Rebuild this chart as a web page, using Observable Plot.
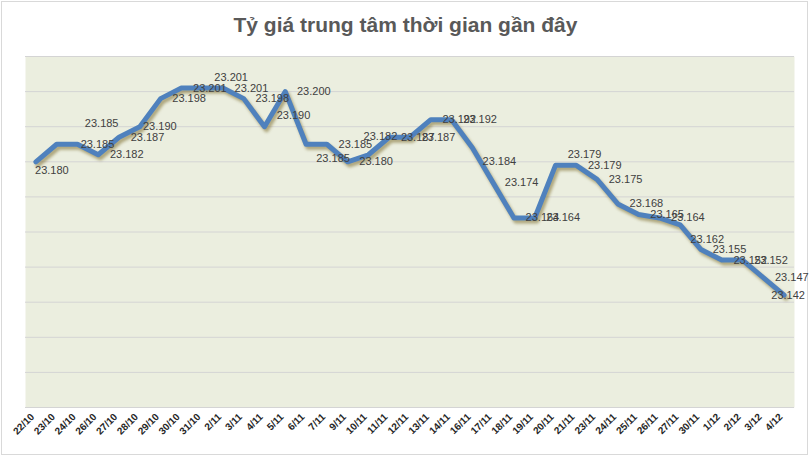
<!DOCTYPE html>
<html>
<head>
<meta charset="utf-8">
<script src="https://cdn.jsdelivr.net/npm/d3@7"></script>
<script src="https://cdn.jsdelivr.net/npm/@observablehq/plot@0.6"></script>
<style>
  html, body { margin: 0; padding: 0; background: #fff; }
  #wrap { position: relative; width: 811px; height: 458px; overflow: hidden; background: #fff; }
  #frame { position: absolute; left: 1px; top: 1px; width: 805px; height: 452px; border: 1px solid #d9d9d9; }
  #title { position: absolute; left: 0; top: 13px; width: 811px; text-align: center;
           font-family: "Liberation Sans Narrow", "Liberation Sans", Arial, sans-serif;
           font-weight: bold; font-size: 21px; color: #595959; }
  #chart { position: absolute; left: 0; top: 50px; }
</style>
</head>
<body>
<div id="wrap">
  <div id="frame"></div>
  <div id="title">Tỷ giá trung tâm thời gian gần đây</div>
  <div id="chart"></div>
</div>
<script>
const dates = ["22/10","23/10","24/10","26/10","27/10","28/10","29/10","30/10","31/10","2/11","3/11","4/11","5/11","6/11","7/11","9/11","10/11","11/11","12/11","13/11","14/11","16/11","17/11","18/11","19/11","20/11","21/11","23/11","24/11","25/11","26/11","27/11","30/11","1/12","2/12","3/12","4/12"];
const rates = [23180,23185,23185,23182,23187,23190,23198,23201,23201,23201,23198,23190,23200,23185,23185,23180,23182,23187,23187,23192,23192,23184,23174,23164,23164,23179,23179,23175,23168,23165,23164,23162,23155,23152,23152,23147,23142];
const yTicks = [23110,23120,23130,23140,23150,23160,23170,23180,23190,23200,23210];
// label placement codes (annotation layout)
const labelPlacement = ["b","far","rn","r","r","rn","r","r","ru","r","r","ru","r","rd","r","r","u","r","r","r","r","rd","r","r","r","ru","r","r","r","r","r","rd","r","r","r","r","c"];

const offsets = {r:[28.5,0], rn:[20,0], ru:[29,-11], rd:[27,14], u:[12,-18], b:[16,9], c:[4,0], far:[45,-21]};
const fmt = v => `${Math.floor(v/1000)}.${String(v%1000).padStart(3,"0")}`;
const data = dates.map((d,i) => ({date:d, rate:rates[i], place:labelPlacement[i]}));

const labelMarks = Object.entries(offsets).map(([code,[dx,dy]]) =>
  Plot.text(data.filter(d => d.place === code), {
    x: "date", y: "rate", text: d => fmt(d.rate), dx, dy,
    fontSize: 11, fill: "#404040", textAnchor: "middle",
    fontFamily: "'Liberation Sans', Arial, sans-serif"
  })
);

const chart = Plot.plot({
  width: 811,
  height: 408,
  marginLeft: 25,
  marginRight: 17,
  marginTop: 6,
  marginBottom: 51,
  style: {fontFamily: "'Liberation Sans', Arial, sans-serif", background: "transparent", overflow: "visible"},
  x: {type: "point", domain: dates, padding: 0.5, round: false, label: null, axis: null},
  y: {domain: [23110, 23210], label: null, axis: null},
  marks: [
    Plot.frame({fill: "#ebeedf", stroke: null}),
    Plot.ruleY(yTicks, {stroke: "#d4d4d4", strokeWidth: 1}),
    Plot.text(dates, {x: d => d, frameAnchor: "bottom", text: d => d, rotate: -45, textAnchor: "end",
      dx: -1, dy: 10, fontSize: 10, fontWeight: "bold", fill: "#262626"}),
    Plot.line(data, {x: "date", y: "rate", stroke: "#7a6a2a", strokeOpacity: 0.55, strokeWidth: 5, dx: 2, dy: 3, imageFilter: "blur(1.5px)"}),
    Plot.line(data, {x: "date", y: "rate", stroke: "#4f81bd", strokeWidth: 5}),
    ...labelMarks
  ]
});
document.getElementById("chart").appendChild(chart);
</script>
</body>
</html>
